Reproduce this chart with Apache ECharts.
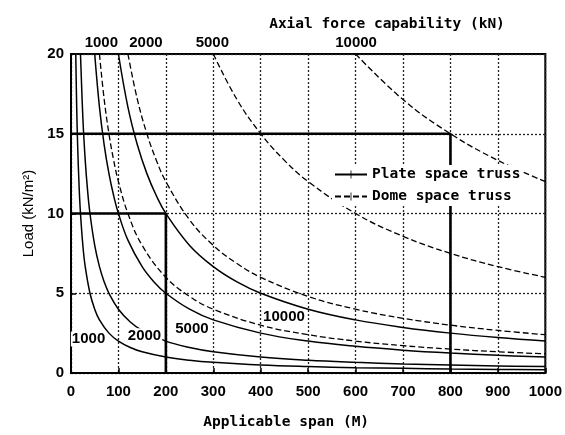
<!DOCTYPE html>
<html>
<head>
<meta charset="utf-8">
<script src="https://cdn.jsdelivr.net/npm/echarts@6/dist/echarts.min.js"></script>
<style>
  html, body { margin: 0; padding: 0; background: #fff; }
  #chart { width: 565px; height: 435px; }
</style>
</head>
<body>
<div id="chart"></div>
<script>
// span (M) , load (kN/m2)
const plate1000 = [[10,20],[12,16.67],[14,14.29],[17,11.76],[20,10],[25,8],[30,6.67],[40,5],[50,4],[60,3.33],[80,2.5],[100,2],[125,1.6],[150,1.33],[200,1],[250,0.8],[300,0.67],[400,0.5],[500,0.4],[600,0.33],[700,0.29],[800,0.25],[900,0.22],[1000,0.2]];
const plate2000 = [[20,20],[25,16],[30,13.33],[35,11.43],[40,10],[50,8],[60,6.67],[70,5.71],[80,5],[100,4],[125,3.2],[150,2.67],[200,2],[250,1.6],[300,1.33],[400,1],[500,0.8],[600,0.67],[700,0.57],[800,0.5],[900,0.44],[1000,0.4]];
const plate5000 = [[50,20],[60,16.67],[70,14.29],[80,12.5],[90,11.11],[100,10],[120,8.33],[150,6.67],[175,5.71],[200,5],[250,4],[300,3.33],[400,2.5],[500,2],[600,1.67],[700,1.43],[800,1.25],[900,1.11],[1000,1]];
const plate10000 = [[100,20],[120,16.67],[140,14.29],[160,12.5],[180,11.11],[200,10],[250,8],[300,6.67],[350,5.71],[400,5],[500,4],[600,3.33],[700,2.86],[800,2.5],[900,2.22],[1000,2]];

// dome space truss curves
const dome1000 = [[60,20],[70,17.14],[80,15],[90,13.33],[100,12],[120,10],[150,8],[200,6],[250,4.8],[300,4],[400,3],[500,2.4],[600,2],[700,1.71],[800,1.5],[900,1.33],[1000,1.2]];
const dome2000 = [[120,20],[140,17.14],[160,15],[180,13.33],[200,12],[250,9.6],[300,8],[350,6.86],[400,6],[500,4.8],[600,4],[700,3.43],[800,3],[900,2.67],[1000,2.4]];
const dome5000 = [[300,20],[350,17.14],[400,15],[450,13.33],[500,12],[600,10],[700,8.57],[800,7.5],[900,6.67],[1000,6]];
const dome10000 = [[600,20],[700,17.14],[800,15],[900,13.33],[1000,12]];

// the two worked examples (thick lines)
const guide15 = [[0,15],[800,15],[800,0]];
const guide10 = [[0,10],[200,10],[200,0]];

// curve labels
const curveLabels = ['1000','2000','5000','10000'];
const curveLabelSpans = [37,155,255,449];
const curveLabelLoads = [2.13,2.34,2.76,3.49];
const topLabels = ['1000','2000','5000','10000'];
const topLabelSpans = [64,158,298,601];

const mono = 'DejaVu Sans Mono';
const sans = 'Liberation Sans';
// legend icon: line with a small cross tick in the middle
const tick = 'path://M0 0H0.01V0.01H0Z M4.5 0H5.5V10H4.5Z M9.99 9.99H10V10H9.99Z';

function plateSeries(data) {
  return {
    name: 'Plate space truss', type: 'line', data: data,
    smooth: 0.4, showSymbol: false, symbol: tick,
    lineStyle: { color: '#000', width: 1.5 }, itemStyle: { color: '#000' },
    silent: true, z: 3
  };
}
function domeSeries(data) {
  return {
    name: 'Dome space truss', type: 'line', data: data,
    smooth: 0.4, showSymbol: false, symbol: tick,
    lineStyle: { color: '#000', width: 1.3, type: [6, 3] }, itemStyle: { color: '#000' },
    silent: true, z: 3
  };
}
function guideSeries(data) {
  return {
    name: 'guide', type: 'line', data: data, showSymbol: false, symbol: 'none',
    lineStyle: { color: '#000', width: 2.6 }, silent: true, z: 3
  };
}
function labelSeries(data, position) {
  return {
    name: 'labels', type: 'scatter', symbolSize: 0, silent: true, z: 5,
    itemStyle: { color: '#000', opacity: 1 },
    data: data,
    label: {
      show: true, position: position, distance: 4, formatter: p => p.value[2],
      fontFamily: sans, fontSize: 15, fontWeight: 'bold', color: '#000',
      textBorderWidth: 0,
      backgroundColor: position === 'inside' ? '#fff' : 'transparent', padding: [0, 1]
    }
  };
}

const chart = echarts.init(document.getElementById('chart'));
const option = {
  animation: false,
  backgroundColor: '#fff',
  textStyle: { fontFamily: sans },
  title: {
    text: 'Axial force capability (kN)',
    left: 382, top: 12, textAlign: 'center',
    textStyle: { fontFamily: mono, fontSize: 14.5, fontWeight: 'bold', color: '#000' }
  },
  grid: {
    left: 71, right: 19, top: 54, bottom: 61,
    show: true, borderColor: '#000', borderWidth: 2
  },
  legend: {
    data: ['Plate space truss', 'Dome space truss'],
    orient: 'vertical', left: 332, top: 165,
    itemWidth: 32, itemHeight: 10, itemGap: 7, padding: 2,
    backgroundColor: '#fff',
    textStyle: { fontFamily: mono, fontSize: 14.5, fontWeight: 'bold', color: '#000' },
    selectedMode: false
  },
  xAxis: {
    type: 'value', min: 0, max: 1000, interval: 100,
    name: 'Applicable span (M)', nameLocation: 'middle', nameGap: 42,
    nameTextStyle: { fontFamily: mono, fontSize: 14.5, fontWeight: 'bold', color: '#000', padding: [0, 44, 0, 0] },
    axisLine: { lineStyle: { color: '#000', width: 2 } },
    axisTick: { inside: true, length: 5, lineStyle: { color: '#000', width: 1.5 } },
    axisLabel: { color: '#000', fontSize: 15, fontWeight: 'bold', margin: 11, formatter: v => String(v) },
    splitLine: { show: true, lineStyle: { color: '#222', width: 1.3, type: [2, 2] } }
  },
  yAxis: {
    type: 'value', min: 0, max: 20, interval: 5,
    name: 'Load (kN/m²)', nameLocation: 'middle', nameGap: 35,
    nameTextStyle: { fontSize: 15, color: '#000' },
    axisLine: { show: true, lineStyle: { color: '#000', width: 2 } },
    axisTick: { show: true, inside: true, length: 5, lineStyle: { color: '#000', width: 1.5 } },
    axisLabel: { color: '#000', fontSize: 15, fontWeight: 'bold', margin: 7 },
    splitLine: { show: true, lineStyle: { color: '#222', width: 1.3, type: [2, 2] } }
  },
  series: [
    plateSeries(plate1000), plateSeries(plate2000), plateSeries(plate5000), plateSeries(plate10000),
    domeSeries(dome1000), domeSeries(dome2000), domeSeries(dome5000), domeSeries(dome10000),
    guideSeries(guide15), guideSeries(guide10),
    labelSeries(curveLabels.map((t, i) => [curveLabelSpans[i], curveLabelLoads[i], t]), 'inside'),
    labelSeries(topLabels.map((t, i) => [topLabelSpans[i], 20, t]), 'top')
  ]
};
chart.setOption(option);
</script>
</body>
</html>
